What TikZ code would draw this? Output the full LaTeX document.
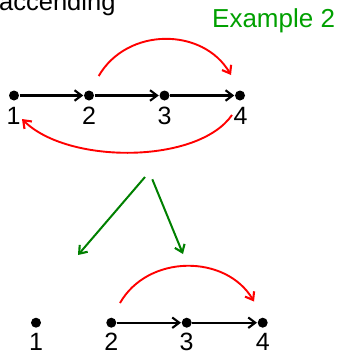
\documentclass[tikz,border=0pt]{standalone}
\usepackage{fontspec}
\setmainfont{Liberation Sans}
\usetikzlibrary{arrows.meta,calc}
\definecolor{egreen}{RGB}{0,160,0}
\definecolor{agreen}{RGB}{0,128,0}
\begin{document}
\begin{tikzpicture}[x=1pt,y=-1pt,
  dot/.style={circle,fill=black,inner sep=0pt,minimum size=10pt},
  lbl/.style={anchor=base,inner sep=0pt,font=\fontsize{25}{30}\selectfont},
  tip/.style={-{Straight Barb[length=7pt,width=10.5pt,line width=2.1pt]}},
  chain/.style={tip,line width=2.1pt,black,shorten <=0.5pt,shorten >=0.5pt},
  redarc/.style={tip,line width=1.9pt,red},
  greenarr/.style={tip,line width=2pt,agreen}]
\useasboundingbox (0,0) rectangle (339,351);
% texts
\node[anchor=base west,inner sep=0pt,font=\fontsize{25.5}{30}\selectfont] (title) at (-1,10) {accending};
\node[anchor=base west,inner sep=0pt,font=\fontsize{26}{30}\selectfont,text=egreen] (ex) at (212,27.5) {Example 2};
% top row
\node[dot] (t1) at (14,95.5) {};
\node[dot] (t2) at (89,95.5) {};
\node[dot] (t3) at (164.5,95.5) {};
\node[dot] (t4) at (240,95.5) {};
\node[lbl] (tl1) at (13.5,124) {1};
\node[lbl] (tl2) at (89,124) {2};
\node[lbl] (tl3) at (164.5,124) {3};
\node[lbl] (tl4) at (240.5,124) {4};
\draw[chain] (t1) -- (t2);
\draw[chain] (t2) -- (t3);
\draw[chain] (t3) -- (t4);
\coordinate (ta) at (98.7,76);
\coordinate (tb) at (231,75);
\draw[redarc] (ta) .. controls (127,27) and (203,27) .. (tb);
\coordinate (tc) at (232,115);
\coordinate (td) at (22,119);
\draw[redarc] (tc) .. controls (197.8,164.2) and (67.5,164.5) .. (td);
% green arrows
\coordinate (g0) at (145,177);
\coordinate (g1) at (78,255);
\coordinate (g2) at (152.3,179.3);
\coordinate (g3) at (183,254);
\draw[greenarr] (g0) -- (g1);
\draw[greenarr] (g2) -- (g3);
% bottom row
\node[dot] (b1) at (36,322.7) {};
\node[dot] (b2) at (111.3,322.7) {};
\node[dot] (b3) at (186.7,322.7) {};
\node[dot] (b4) at (262.7,322.7) {};
\node[lbl] (bl1) at (36,350) {1};
\node[lbl] (bl2) at (111.3,350) {2};
\node[lbl] (bl3) at (186.7,350) {3};
\node[lbl] (bl4) at (262.7,350) {4};
\draw[chain] (b2) -- (b3);
\draw[chain] (b3) -- (b4);
\coordinate (ba) at (120,303);
\coordinate (bb) at (254,301.5);
\draw[redarc] (ba) .. controls (148,254) and (226,254) .. (bb);
\end{tikzpicture}
\end{document}
